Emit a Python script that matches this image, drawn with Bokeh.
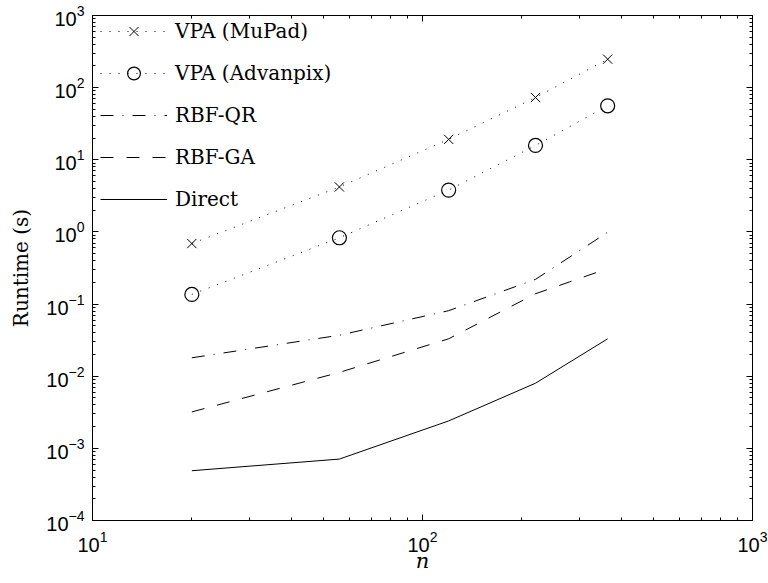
from bokeh.plotting import figure
from bokeh.models import (LogAxis, FixedTicker, Legend, LegendItem,
                          CustomJSTickFormatter, ColumnDataSource)
from bokeh.embed import file_html
from bokeh.resources import INLINE

# ---- data ----
n = [20, 56, 120, 220, 364]
vpa_mupad = [0.69, 4.2, 19.2, 73.0, 248.0]
vpa_advanpix = [0.136, 0.83, 3.8, 15.8, 56.0]
rbf_qr = [0.018, 0.037, 0.081, 0.22, 0.99]
rbf_ga = [0.0032, 0.0113, 0.033, 0.139, 0.31]
direct = [0.00049, 0.00071, 0.0024, 0.0080, 0.033]

series_labels = ["VPA (MuPad)", "VPA (Advanpix)", "RBF-QR", "RBF-GA", "Direct"]

# ---- ticks ----
x_major = [10, 100, 1000]
x_minor = [k * 10 ** e for e in (1, 2) for k in range(2, 10)]
y_major = [1e-4, 1e-3, 1e-2, 1e-1, 1e0, 1e1, 1e2, 1e3]
y_minor = [k * 10.0 ** e for e in range(-4, 3) for k in range(2, 10)]

src = ColumnDataSource(dict(n=n, mupad=vpa_mupad, adv=vpa_advanpix,
                            qr=rbf_qr, ga=rbf_ga, direct=direct))

SERIF = "DejaVu Serif"

p = figure(x_axis_type="log", y_axis_type="log",
           x_range=(10, 1000), y_range=(1e-4, 1e3),
           frame_width=660, frame_height=505,
           min_border_left=92, min_border_right=16,
           min_border_top=15, min_border_bottom=63,
           output_backend="svg", toolbar_location=None)

p.xgrid.visible = False
p.ygrid.visible = False
p.outline_line_color = "black"
p.outline_line_width = 1
p.background_fill_color = "white"
p.border_fill_color = "white"

def style_axis(ax, ticks, minors, show_labels=True):
    ax.ticker = FixedTicker(ticks=ticks, minor_ticks=minors)
    ax.major_tick_in = 6
    ax.major_tick_out = 0
    ax.minor_tick_in = 3
    ax.minor_tick_out = 0
    ax.major_tick_line_color = "black"
    ax.minor_tick_line_color = "black"
    ax.axis_line_color = "black"
    ax.major_label_text_font = "Liberation Sans"
    ax.major_label_text_font_size = "20px"
    ax.major_label_text_color = "black"
    ax.axis_label_text_color = "black"
    if not show_labels:
        ax.formatter = CustomJSTickFormatter(code="return ''")
        ax.major_label_standoff = 0

style_axis(p.xaxis[0], x_major, x_minor)
style_axis(p.yaxis[0], y_major, y_minor)
p.xaxis[0].major_label_standoff = 10
p.yaxis[0].major_label_standoff = 8

p.xaxis[0].axis_label = "n"
p.xaxis[0].axis_label_text_font = SERIF
p.xaxis[0].axis_label_text_font_style = "italic"
p.xaxis[0].axis_label_text_font_size = "21px"
p.xaxis[0].axis_label_standoff = -6

p.yaxis[0].axis_label = "Runtime (s)"
p.yaxis[0].axis_label_text_font = SERIF
p.yaxis[0].axis_label_text_font_style = "normal"
p.yaxis[0].axis_label_text_font_size = "20px"
p.yaxis[0].axis_label_standoff = 10

top_ax = LogAxis()
style_axis(top_ax, x_major, x_minor, show_labels=False)
p.add_layout(top_ax, "above")
right_ax = LogAxis()
style_axis(right_ax, y_major, y_minor, show_labels=False)
p.add_layout(right_ax, "right")

# ---- glyphs ----
l1 = p.line("n", "mupad", source=src, line_color="black", line_width=1, line_dash="1 8")
m1 = p.scatter("n", "mupad", source=src, marker="x", size=13, line_color="black", line_width=1)
l2 = p.line("n", "adv", source=src, line_color="black", line_width=1, line_dash="1 8")
m2 = p.scatter("n", "adv", source=src, marker="circle", size=14, fill_color=None,
               line_color="black", line_width=1.2)
l3 = p.line("n", "qr", source=src, line_color="black", line_width=1, line_dash="13 9 1 9")
l4 = p.line("n", "ga", source=src, line_color="black", line_width=1, line_dash="13 13")
l5 = p.line("n", "direct", source=src, line_color="black", line_width=1)

legend = Legend(items=[
    LegendItem(label=series_labels[0], renderers=[l1, m1]),
    LegendItem(label=series_labels[1], renderers=[l2, m2]),
    LegendItem(label=series_labels[2], renderers=[l3]),
    LegendItem(label=series_labels[3], renderers=[l4]),
    LegendItem(label=series_labels[4], renderers=[l5]),
], location=(8, 305))
legend.border_line_color = None
legend.background_fill_alpha = 0
legend.label_text_font = SERIF
legend.label_text_font_size = "20px"
legend.label_text_color = "black"
legend.glyph_width = 67
legend.glyph_height = 32
legend.label_height = 32
legend.spacing = 10
legend.margin = 0
legend.padding = 0
legend.label_standoff = 8
p.add_layout(legend)

open("out.html", "w").write(file_html(p, INLINE))
